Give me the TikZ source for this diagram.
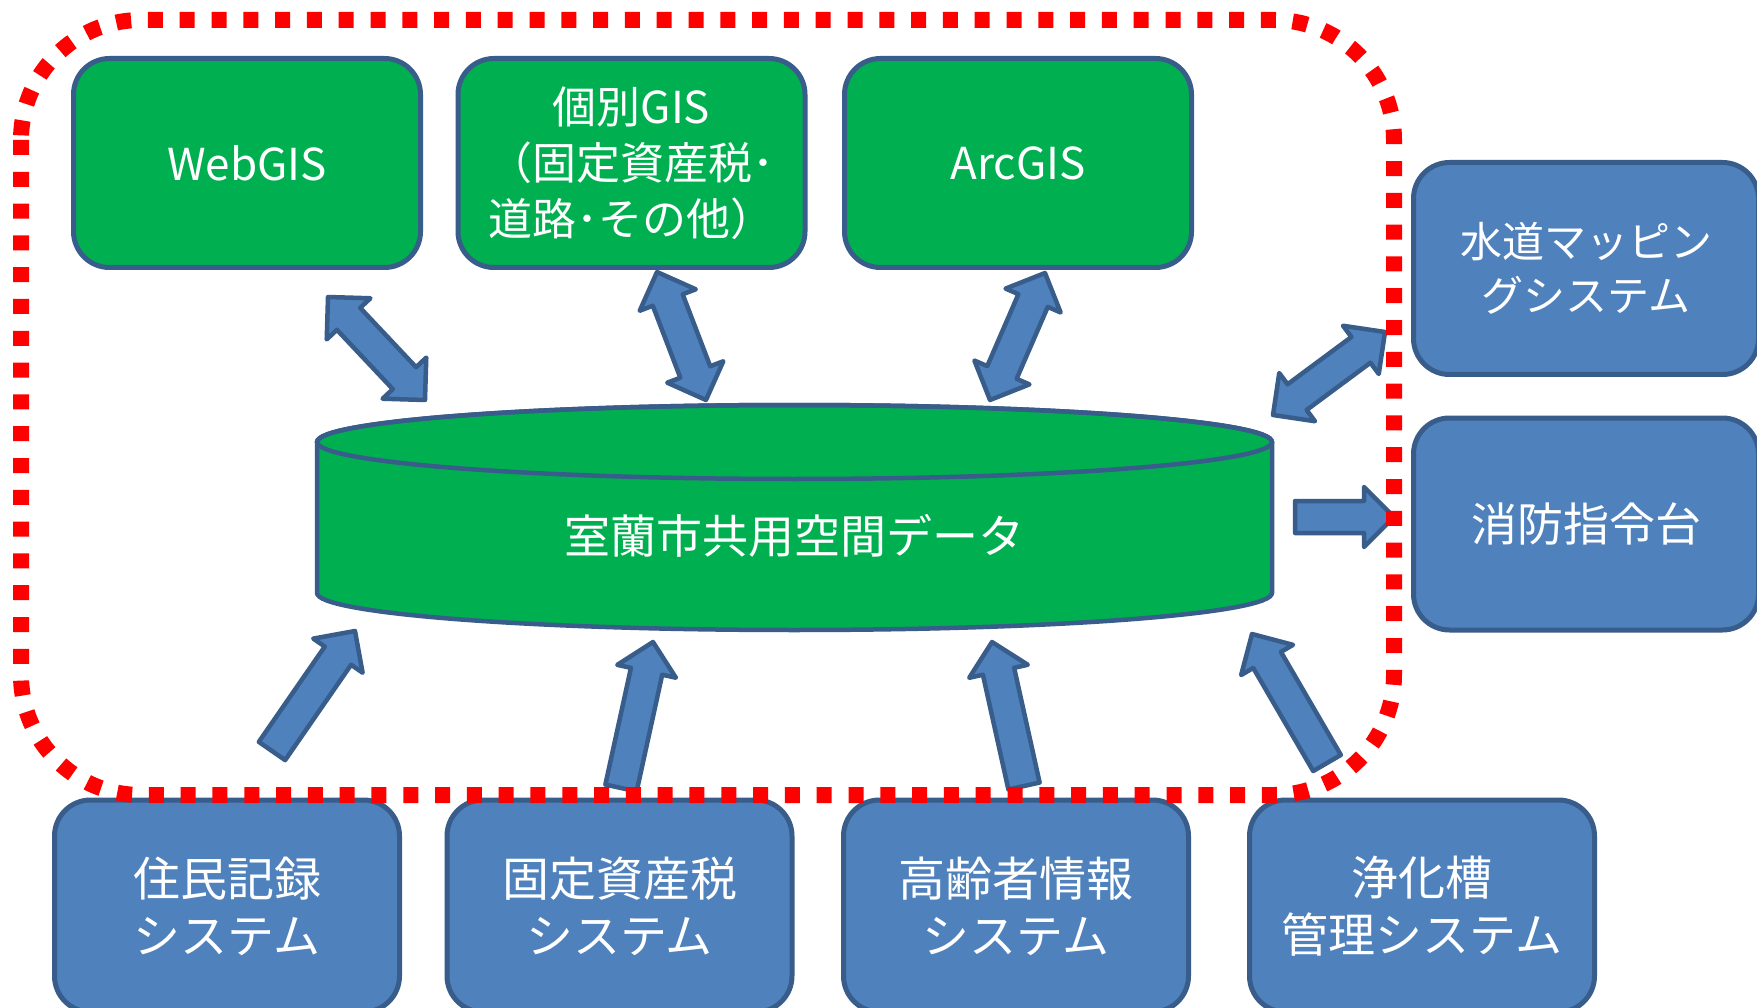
\documentclass[tikz,border=0pt]{standalone}
\usepackage{fontspec}
\setmainfont{Noto Sans CJK JP}
\usetikzlibrary{calc}
\definecolor{gfill}{HTML}{00B050}
\definecolor{bfill}{HTML}{4F81BD}
\definecolor{bline}{HTML}{385D8A}
\definecolor{rline}{HTML}{FF0000}
\newcommand{\myfs}[2]{\fontsize{#1}{#2}\selectfont}
\tikzset{
  boxbase/.style={rectangle, rounded corners=36pt, draw=bline, line width=5pt,
    text=white, inner sep=0pt, align=center},
  gbox/.style={boxbase, fill=gfill, minimum width=347pt, minimum height=209pt},
  bbox/.style={boxbase, fill=bfill, minimum width=345pt, minimum height=212pt},
  arrowshape/.style={fill=bfill, draw=bline, line width=4.5pt, line join=round},
  redframe/.style={draw=rline, line width=16pt, dash pattern=on 15pt off 16.8pt, rounded corners=120pt}
}
\newcommand{\blkarrow}[2]{%
  \coordinate (baX) at ($(#2)!30pt!(#1)$);
  \filldraw[arrowshape] ($(#1)!16pt!90:(#2)$) -- ($(baX)!16pt!90:(#2)$) -- ($(baX)!30pt!90:(#2)$) -- (#2)
    -- ($(baX)!30pt!-90:(#2)$) -- ($(baX)!16pt!-90:(#2)$) -- ($(#1)!16pt!-90:(#2)$) -- cycle;
}
\newcommand{\dblarrow}[2]{%
  \coordinate (bAX) at ($(#1)!30pt!(#2)$);
  \coordinate (bBX) at ($(#2)!30pt!(#1)$);
  \filldraw[arrowshape] (#1) -- ($(bAX)!30pt!90:(#2)$) -- ($(bAX)!16pt!90:(#2)$)
    -- ($(bBX)!16pt!-90:(#1)$) -- ($(bBX)!30pt!-90:(#1)$) -- (#2)
    -- ($(bBX)!30pt!90:(#1)$) -- ($(bBX)!16pt!90:(#1)$)
    -- ($(bAX)!16pt!-90:(#2)$) -- ($(bAX)!30pt!-90:(#2)$) -- cycle;
}
\begin{document}
\begin{tikzpicture}[x=1pt, y=-1pt]
\clip (0,0) rectangle (1757,1008);
\fill[white] (0,0) rectangle (1757,1008);

% top green boxes
\node[gbox, font=\myfs{44}{55}] (webgis) at (247,163) {WebGIS};
\node[gbox, font=\myfs{44}{56}] (kobetsu) at (631.5,163) {個別GIS\\（固定資産税･\\道路･その他）};
\node[gbox, font=\myfs{44}{55}] (arcgis) at (1018,163) {ArcGIS};

% right blue boxes
\node[bbox, font=\myfs{42}{54}] (suido) at (1586,268.5) {水道マッピン\\グシステム};
\node[bbox, font=\myfs{46}{55}] (shobo) at (1586,524) {消防指令台};

% bottom blue boxes
\node[bbox, font=\myfs{47}{57}] (jumin) at (227,906) {住民記録\\システム};
\node[bbox, font=\myfs{47}{57}] (kotei) at (619.5,906) {固定資産税\\システム};
\node[bbox, font=\myfs{47}{57}] (koreisha) at (1016,906) {高齢者情報\\システム};
\node[bbox, font=\myfs{47}{57}] (johka) at (1422,906) {浄化槽\\管理システム};

% cylinder (shared spatial data)
\path[fill=gfill, draw=bline, line width=4.5pt] (317,442) -- (317,593)
  arc[start angle=180, end angle=360, x radius=477.5pt, y radius=37pt] -- (1272,442)
  arc[start angle=0, end angle=180, x radius=477.5pt, y radius=37pt] -- cycle;
\draw[draw=bline, line width=4.5pt] (794.5,442) ellipse [x radius=477.5pt, y radius=37pt];
\node[text=white, font=\myfs{46}{55}] (db) at (794.5,536) {室蘭市共用空間データ};

% arrow end points
\coordinate (a1t) at (328,297);  \coordinate (a1b) at (425,400);
\coordinate (a2t) at (657,272);  \coordinate (a2b) at (706,400);
\coordinate (a3t) at (1045,273); \coordinate (a3b) at (990,400);
\coordinate (a4t) at (1385,332); \coordinate (a4b) at (1273,415);
\coordinate (a5s) at (1295,517); \coordinate (a5e) at (1394,517);
\coordinate (b1s) at (272,751);  \coordinate (b1e) at (355,631);
\coordinate (b2s) at (621,788);  \coordinate (b2e) at (653,642);
\coordinate (b3s) at (1024,786); \coordinate (b3e) at (992,642);
\coordinate (b4s) at (1327,763); \coordinate (b4e) at (1252,634);

\dblarrow{a1t}{a1b}
\dblarrow{a2t}{a2b}
\dblarrow{a3t}{a3b}
\dblarrow{a4t}{a4b}
\blkarrow{a5s}{a5e}
\blkarrow{b1s}{b1e}
\blkarrow{b2s}{b2e}
\blkarrow{b3s}{b3e}
\blkarrow{b4s}{b4e}

% red dashed frame
\draw[redframe] (21,20) rectangle (1394,795);
\end{tikzpicture}
\end{document}
